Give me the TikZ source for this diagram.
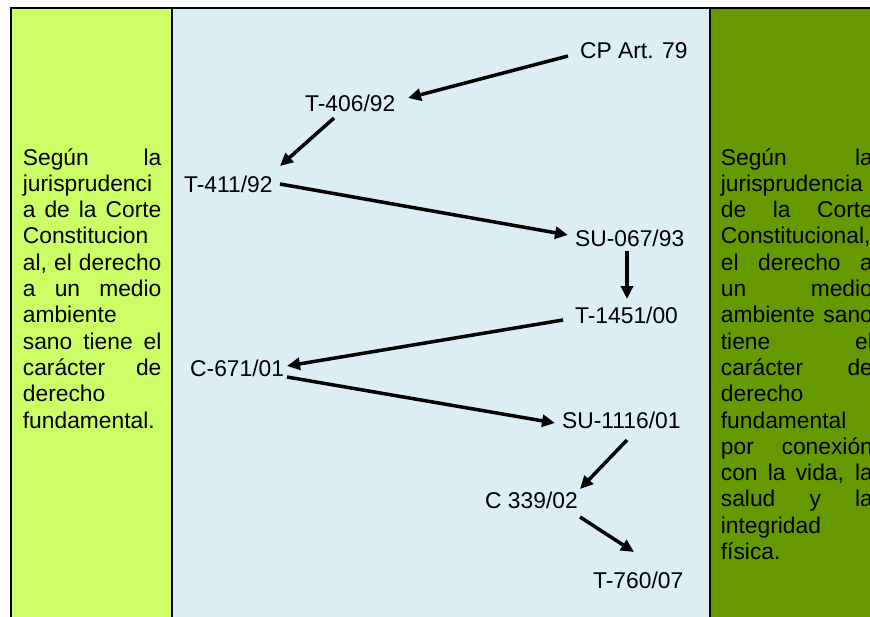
\documentclass[tikz,border=0pt]{standalone}
\usepackage{fontspec}
\setmainfont{Liberation Sans}
\usetikzlibrary{arrows.meta,calc}
\definecolor{leftgreen}{RGB}{204,255,102}
\definecolor{midblue}{RGB}{218,238,243}
\definecolor{rightgreen}{RGB}{102,153,0}
\newcommand\jline[1]{\makebox[\linewidth][s]{#1}}
\begin{document}
\begin{tikzpicture}[x=1pt,y=-1pt,
  lbl/.style={anchor=base west, inner sep=0pt, font=\fontsize{22.8}{26.3}\selectfont},
  coltext/.style={anchor=base west, inner sep=0pt, font=\fontsize{22.8}{26.3}\selectfont},
  conn/.style={line width=3.5pt, -{Triangle[length=13pt,width=12pt]}},
  frame/.style={line width=1.5pt, black}]
\useasboundingbox (0,0) rectangle (870,616);
\clip (0,0) rectangle (870,616);
\fill[white] (0,0) rectangle (870,616);
\fill[leftgreen] (11,8) rectangle (172,620);
\fill[midblue] (172,8) rectangle (710,620);
\fill[rightgreen] (710,8) rectangle (880,620);
\draw[frame] (11,620) -- (11,8) -- (880,8);
\draw[frame] (172,8) -- (172,620);
\draw[frame] (710,8) -- (710,620);

\node[coltext] (lefttext) at (22.7,165) {\parbox[t]{138.5pt}{\jline{Según la}\\
jurisprudenci\\
\jline{a de la Corte}\\
Constitucion\\
\jline{al, el derecho}\\
\jline{a un medio}\\
ambiente\\
\jline{sano tiene el}\\
\jline{carácter de}\\
derecho\\
fundamental.}};

\node[coltext] (righttext) at (720.7,165) {\parbox[t]{152pt}{\jline{Según la}\\
jurisprudencia\\
\jline{de la Corte}\\
Constitucional,\\
\jline{el derecho a}\\
\jline{un medio}\\
\jline{ambiente sano}\\
\jline{tiene el}\\
\jline{carácter de}\\
derecho\\
fundamental\\
\jline{por conexión}\\
\jline{con la vida, la}\\
\jline{salud y la}\\
integridad\\
física.}};

\node[lbl] (cp) at (580,58) {CP Art. 79};
\node[lbl] (t406) at (305,111) {T-406/92};
\node[lbl] (t411) at (184,192) {T-411/92};
\node[lbl] (su067) at (575,246) {SU-067/93};
\node[lbl] (t1451) at (575,323) {T-1451/00};
\node[lbl] (c671) at (190,376) {C-671/01};
\node[lbl] (su1116) at (562,428) {SU-1116/01};
\node[lbl] (c339) at (485,508) {C 339/02};
\node[lbl] (t760) at (593,588) {T-760/07};

\draw[conn] ($(cp.base west)+(-12,-2)$) -- ($(t406.base west)+(103,-13)$);
\draw[conn] ($(t406.base west)+(29,7)$) -- ($(t411.base west)+(96,-26)$);
\draw[conn] ($(t411.base west)+(96,-8)$) -- ($(su067.base west)+(-7,-11)$);
\draw[conn] ($(su067.base west)+(52,5)$) -- ($(t1451.base west)+(52,-24)$);
\draw[conn] ($(t1451.base west)+(-12,-3)$) -- ($(c671.base west)+(97,-10)$);
\draw[conn] ($(c671.base west)+(97,1)$) -- ($(su1116.base west)+(-7,-5)$);
\draw[conn] ($(su1116.base west)+(65,12)$) -- ($(c339.base west)+(95,-19)$);
\draw[conn] ($(c339.base west)+(95,9)$) -- ($(t760.base west)+(41,-36)$);
\end{tikzpicture}
\end{document}
